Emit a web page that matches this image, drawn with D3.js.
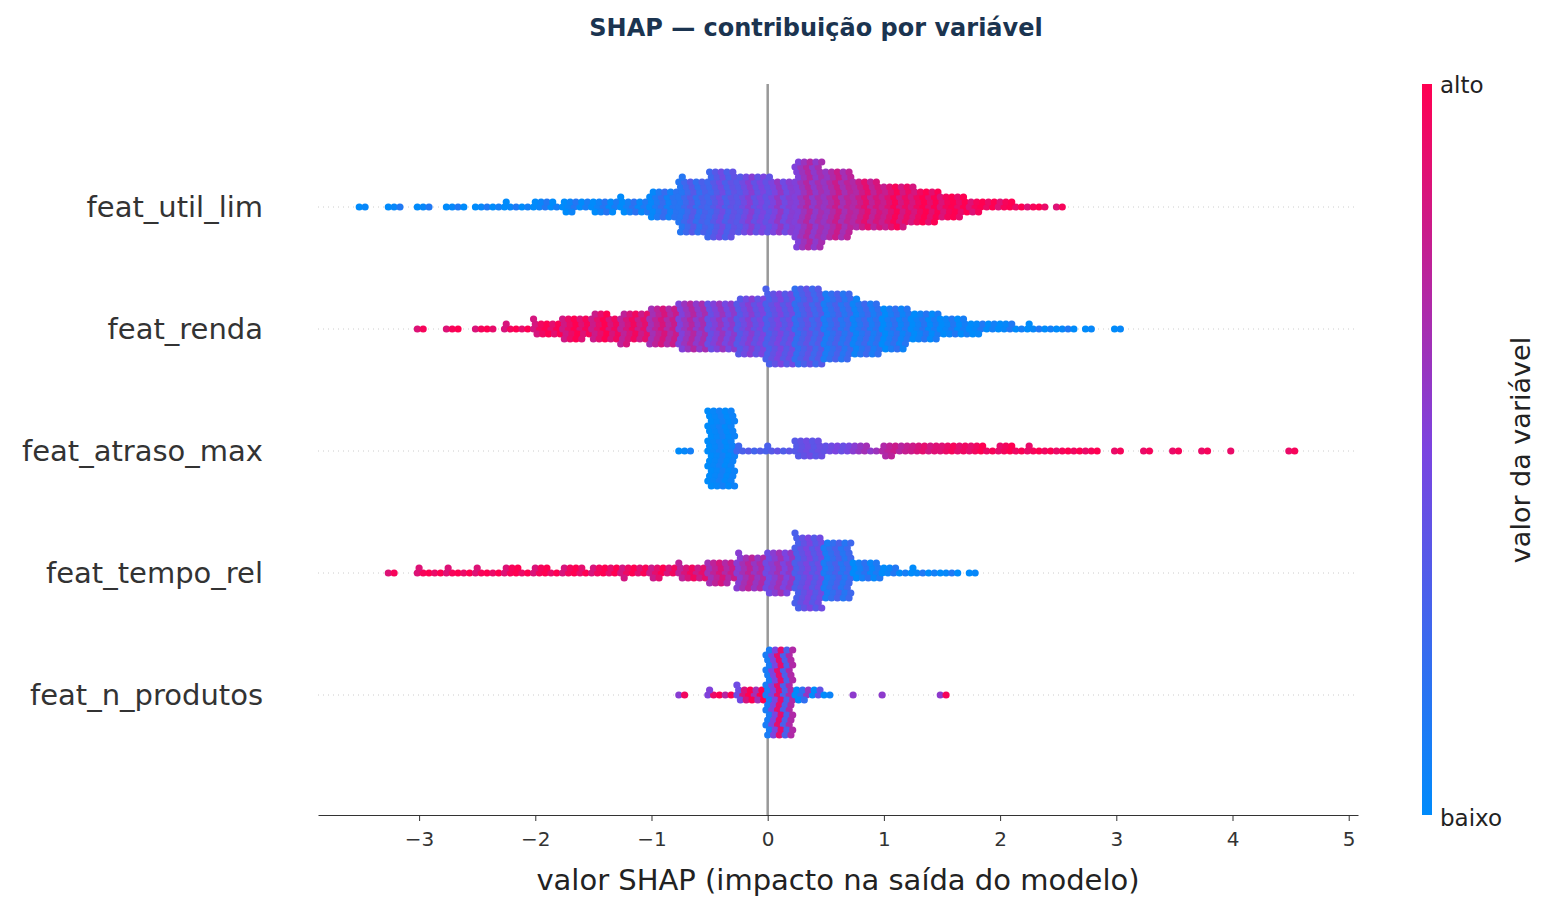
<!DOCTYPE html>
<html><head><meta charset="utf-8">
<script src="https://cdn.jsdelivr.net/npm/d3@7"></script>
<style>body{margin:0;background:#fff}text{font-family:"DejaVu Sans",sans-serif}</style>
</head><body><svg id="c" width="1552" height="912"></svg>
<script>
const features = ["feat_util_lim","feat_renda","feat_atraso_max","feat_tempo_rel","feat_n_produtos"];
const binCenters = [-3.4,-3.15,-2.9,-2.65,-2.4,-2.15,-1.9,-1.65,-1.4,-1.15,-0.9,-0.65,-0.4,-0.15,0.1,0.35,0.6,0.85,1.1,1.35,1.6,1.85,2.1,2.35,2.6,2.85,3.1,3.35,3.6,3.85,4.1,4.35,4.6,4.85];
const counts = [
 [2,3,3,4,5,6,9,12,14,16,30,56,70,60,56,90,70,50,44,36,24,12,8,4,2,0,0,0,0,0,0,0,0,0],
 [0,0,2,3,4,6,16,24,28,32,40,50,50,60,76,80,70,56,44,30,20,12,8,6,4,2,2,0,0,0,0,0,0,0],
 [0,0,0,0,0,0,0,0,0,0,0,3,80,6,6,20,10,8,12,10,10,8,8,6,5,3,2,2,2,2,1,0,2,0],
 [0,2,6,6,6,8,8,9,10,11,12,16,24,36,44,76,60,20,8,6,4,2,0,0,0,0,0,0,0,0,0,0,0,0],
 [0,0,0,0,0,0,0,0,0,0,0,2,6,16,90,12,2,1,1,0,2,0,0,0,0,0,0,0,0,0,0,0,0,0]
];
// mean feature value (0 = baixo, 1 = alto) per bin
const colorVals = [
 [0.03,0.03,0.03,0.03,0.03,0.03,0.04,0.05,0.06,0.08,0.12,0.25,0.35,0.45,0.5,0.62,0.7,0.8,0.88,0.94,0.96,0.97,0.97,0.97,0.97,0.97,0.97,0.97,0.97,0.97,0.97,0.97,0.97,0.97],
 [0.97,0.97,0.97,0.97,0.96,0.95,0.94,0.92,0.9,0.85,0.75,0.62,0.52,0.45,0.4,0.3,0.2,0.15,0.1,0.06,0.04,0.03,0.03,0.03,0.03,0.03,0.03,0.03,0.03,0.03,0.03,0.03,0.03,0.03],
 [0.03,0.03,0.03,0.03,0.03,0.03,0.03,0.03,0.03,0.03,0.03,0.03,0.03,0.3,0.35,0.4,0.45,0.6,0.75,0.85,0.92,0.95,0.96,0.97,0.97,0.97,0.97,0.97,0.97,0.97,0.97,0.97,0.97,0.97],
 [0.97,0.97,0.97,0.97,0.97,0.97,0.96,0.95,0.95,0.93,0.9,0.85,0.75,0.65,0.55,0.4,0.2,0.08,0.04,0.03,0.03,0.03,0.03,0.03,0.03,0.03,0.03,0.03,0.03,0.03,0.03,0.03,0.03,0.03],
 [0.97,0.97,0.97,0.97,0.97,0.97,0.97,0.97,0.97,0.97,0.97,0.95,0.92,0.85,0.5,0.2,0.05,0.97,0.97,0.97,0.97,0.97,0.97,0.97,0.97,0.97,0.97,0.97,0.97,0.97,0.97,0.97,0.97,0.97]
];
// spread of feature values within a bin
const colorSpread = [0.1,0.1,0.05,0.1,0.4];
const xTicks = [-3,-2,-1,0,1,2,3,4,5];

const svg = d3.select("#c");
const x = d3.scaleLinear().domain([-3.87,5.08]).range([318,1358]);
const y = d3.scalePoint().domain(features).range([207,695]);
const cmap = d3.scaleLinear().domain([0,0.5,1]).range(["#008bfb","#7b44e0","#ff0051"]).interpolate(d3.interpolateRgb);

svg.append("text").attr("x",816).attr("y",36).attr("text-anchor","middle")
 .attr("font-size",24).attr("font-weight","bold").attr("fill","#1b3450").text("SHAP — contribuição por variável");

features.forEach(f=>{
 svg.append("line").attr("x1",318).attr("x2",1358).attr("y1",y(f)).attr("y2",y(f))
  .attr("stroke","#ccc").attr("stroke-dasharray","1,4");
 svg.append("text").attr("x",263).attr("y",y(f)).attr("dy","0.35em").attr("text-anchor","end")
  .attr("font-size",29).attr("fill","#333").text(f);
});
svg.append("line").attr("x1",x(0)).attr("x2",x(0)).attr("y1",84).attr("y2",815).attr("stroke","#999").attr("stroke-width",2.5);

const binW = 0.25, cols = 5, dy = 5;
const pts = [];
features.forEach((f,fi)=>{
 binCenters.forEach((c,bi)=>{
  const n = counts[fi][bi];
  for(let k=0;k<n;k++){
   const col = k%cols, row = Math.floor(k/cols);
   const side = row%2===0?1:-1, lvl = Math.ceil(row/2);
   const xv = c - binW/2 + binW*(col+0.5+ (row%3)*0.3 -0.3)/cols;
   const cv = Math.max(0,Math.min(1,colorVals[fi][bi] + ((k*7%5)-2)/2*colorSpread[fi]));
   pts.push({x:xv, y:y(f)+side*lvl*dy, c:cv});
  }
 });
});
svg.append("g").selectAll("circle").data(pts).join("circle")
 .attr("cx",d=>x(d.x)).attr("cy",d=>d.y).attr("r",3.6).attr("fill",d=>cmap(d.c));

const ax = svg.append("g").attr("transform","translate(0,815)")
 .call(d3.axisBottom(x).tickValues(xTicks).tickFormat(d=>d<0?"−"+(-d):d).tickSize(6).tickSizeOuter(0));
ax.select(".domain").attr("stroke","#333");
ax.selectAll("text").attr("font-size",20).attr("fill","#333").attr("dy","1.1em");
ax.selectAll(".tick line").attr("stroke","#333");
svg.append("text").attr("x",838).attr("y",890).attr("text-anchor","middle").attr("font-size",29).attr("fill","#222")
 .text("valor SHAP (impacto na saída do modelo)");

const defs = svg.append("defs");
const lg = defs.append("linearGradient").attr("id","g").attr("x1",0).attr("x2",0).attr("y1",1).attr("y2",0);
d3.range(0,1.01,0.1).forEach(t=>lg.append("stop").attr("offset",t).attr("stop-color",cmap(t)));
svg.append("rect").attr("x",1422).attr("y",84).attr("width",10).attr("height",731).attr("fill","url(#g)");
svg.append("text").attr("x",1440).attr("y",93).attr("font-size",23).attr("fill","#222").text("alto");
svg.append("text").attr("x",1440).attr("y",826).attr("font-size",23).attr("fill","#222").text("baixo");
svg.append("text").attr("transform","translate(1530,450) rotate(-90)").attr("text-anchor","middle")
 .attr("font-size",27).attr("fill","#222").text("valor da variável");
</script></body></html>
